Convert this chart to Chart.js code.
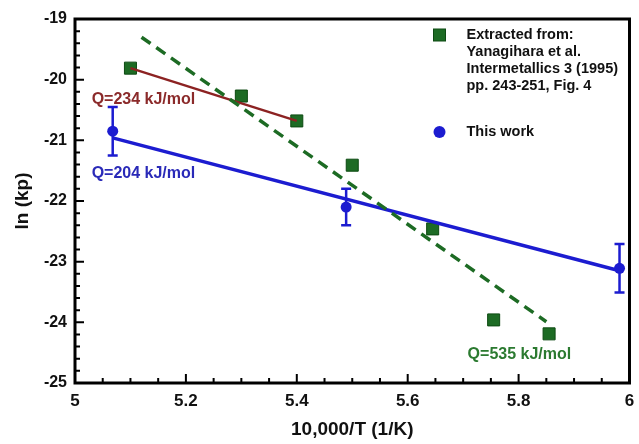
<!DOCTYPE html>
<html>
<head>
<meta charset="utf-8">
<script src="https://cdn.jsdelivr.net/npm/chart.js@4.4.1/dist/chart.umd.min.js"></script>
<style>
  body { margin: 0; background: #fff; }
  #wrap { width: 639px; height: 444px; position: relative; }
</style>
</head>
<body>
<div id="wrap"><canvas id="chart"></canvas></div>
<script>
// Yanagihara et al. (extracted points)
const yanX = [5.10, 5.30, 5.40, 5.50, 5.645, 5.755, 5.855];
const yanY = [-19.81, -20.27, -20.68, -21.41, -22.46, -23.96, -24.19];
// this work, with error bars
const workX = [5.068, 5.489, 5.982];
const workY = [-20.85, -22.10, -23.11];
const workErr = [0.40, 0.30, 0.40];
// fitted lines (end points)
const fit204X = [5.068, 5.982];
const fit204Y = [-20.96, -23.15];
const fit234X = [5.10, 5.40];
const fit234Y = [-19.81, -20.68];
const fit535X = [5.12, 5.85];
const fit535Y = [-19.30, -23.99];
// axes
const xTicks = [5, 5.2, 5.4, 5.6, 5.8, 6];
const yTicks = [-25, -24, -23, -22, -21, -20, -19];

const GREEN = '#1d6b24';
const BLUE = '#1c1cd0';
const RED = '#8c2222';
const FONT = '"Liberation Sans", Arial, sans-serif';

const pts = (xs, ys) => xs.map((x, i) => ({ x: x, y: ys[i] }));

const extras = {
    id: 'extras',
    afterDatasetsDraw(chart) {
        const ctx = chart.ctx;
        const xs = chart.scales.x, ys = chart.scales.y;
        ctx.save();
        ctx.strokeStyle = BLUE;
        ctx.lineWidth = 2.5;
        workX.forEach((v, i) => {
            const px = xs.getPixelForValue(v);
            const top = ys.getPixelForValue(workY[i] + workErr[i]);
            const bot = ys.getPixelForValue(workY[i] - workErr[i]);
            ctx.beginPath();
            ctx.moveTo(px, top); ctx.lineTo(px, bot);
            ctx.moveTo(px - 5, top); ctx.lineTo(px + 5, top);
            ctx.moveTo(px - 5, bot); ctx.lineTo(px + 5, bot);
            ctx.stroke();
        });
        ctx.restore();
    },
    afterDraw(chart) {
        const ctx = chart.ctx;
        const a = chart.chartArea;
        const xs = chart.scales.x, ys = chart.scales.y;
        ctx.save();

        // inward ticks
        ctx.strokeStyle = '#000';
        ctx.lineWidth = 2;
        ctx.beginPath();
        for (let i = 0; i <= 20; i++) {
            const px = xs.getPixelForValue(5 + i * 0.05);
            const len = i % 4 === 0 ? 9 : 5;
            ctx.moveTo(px, a.bottom); ctx.lineTo(px, a.bottom - len);
        }
        for (let i = 0; i <= 30; i++) {
            const py = ys.getPixelForValue(-25 + i * 0.2);
            const len = i % 5 === 0 ? 9 : 5;
            ctx.moveTo(a.left, py); ctx.lineTo(a.left + len, py);
        }
        ctx.stroke();

        // frame
        ctx.lineWidth = 3;
        ctx.strokeRect(a.left, a.top, a.right - a.left, a.bottom - a.top);

        // fit annotations
        ctx.font = 'bold 16px ' + FONT;
        ctx.textBaseline = 'middle';
        ctx.textAlign = 'left';
        ctx.fillStyle = '#8b2a2a';
        ctx.fillText('Q=234 kJ/mol', xs.getPixelForValue(5.03), ys.getPixelForValue(-20.335));
        ctx.fillStyle = '#2a2ab8';
        ctx.fillText('Q=204 kJ/mol', xs.getPixelForValue(5.03), ys.getPixelForValue(-21.55));
        ctx.fillStyle = '#2b7a30';
        ctx.fillText('Q=535 kJ/mol', xs.getPixelForValue(5.708), ys.getPixelForValue(-24.54));

        // legend
        const lx = a.right - 190, tx = a.right - 163;
        ctx.fillStyle = GREEN;
        ctx.strokeStyle = '#0d4a12';
        ctx.lineWidth = 1;
        ctx.fillRect(lx - 6, a.top + 10, 12, 12);
        ctx.strokeRect(lx - 6, a.top + 10, 12, 12);
        ctx.fillStyle = BLUE;
        ctx.beginPath();
        ctx.arc(lx, a.top + 113, 6, 0, Math.PI * 2);
        ctx.fill();

        ctx.fillStyle = '#111';
        ctx.font = 'bold 14.5px ' + FONT;
        const lines = ['Extracted from:', 'Yanagihara et al.', 'Intermetallics 3 (1995)', 'pp. 243-251, Fig. 4'];
        lines.forEach((t, i) => ctx.fillText(t, tx, a.top + 16 + i * 17));
        ctx.fillText('This work', tx, a.top + 113);
        ctx.restore();
    }
};

new Chart(document.getElementById('chart'), {
    type: 'scatter',
    data: {
        datasets: [
            {
                label: 'fit 535',
                data: pts(fit535X, fit535Y),
                showLine: true,
                borderColor: GREEN,
                borderWidth: 3.5,
                borderDash: [11, 7],
                pointRadius: 0
            },
            {
                label: 'fit 234',
                data: pts(fit234X, fit234Y),
                showLine: true,
                borderColor: RED,
                borderWidth: 2.5,
                pointRadius: 0
            },
            {
                label: 'fit 204',
                data: pts(fit204X, fit204Y),
                showLine: true,
                borderColor: BLUE,
                borderWidth: 3.5,
                pointRadius: 0
            },
            {
                label: 'Extracted from: Yanagihara et al.',
                data: pts(yanX, yanY),
                pointStyle: 'rect',
                pointRadius: 8.5,
                backgroundColor: GREEN,
                borderColor: '#0d4a12',
                borderWidth: 1
            },
            {
                label: 'This work',
                data: pts(workX, workY),
                pointStyle: 'circle',
                pointRadius: 5.5,
                backgroundColor: BLUE,
                borderColor: BLUE,
                borderWidth: 0
            }
        ]
    },
    options: {
        responsive: true,
        maintainAspectRatio: false,
        animation: false,
        layout: { padding: { top: 19, right: 0, left: 0, bottom: 0 } },
        plugins: {
            legend: { display: false },
            tooltip: { enabled: false }
        },
        scales: {
            x: {
                type: 'linear',
                min: 5,
                max: 6,
                afterBuildTicks: s => { s.ticks = xTicks.map(v => ({ value: v })); },
                afterFit: s => { s.height = 61; s.paddingLeft = 0; s.paddingRight = 0; },
                grid: { display: false, drawTicks: false },
                border: { display: false },
                ticks: {
                    color: '#111',
                    padding: 8,
                    font: { family: FONT, size: 17, weight: 'bold' },
                    callback: v => String(+v.toFixed(1))
                },
                title: {
                    display: true,
                    text: '10,000/T (1/K)',
                    color: '#111',
                    font: { family: FONT, size: 19, weight: 'bold' },
                    padding: { top: 0, bottom: 3 }
                }
            },
            y: {
                type: 'linear',
                min: -25,
                max: -19,
                afterBuildTicks: s => { s.ticks = yTicks.map(v => ({ value: v })); },
                afterFit: s => { s.width = 75; s.paddingTop = 0; s.paddingBottom = 0; },
                grid: { display: false, drawTicks: false },
                border: { display: false },
                ticks: {
                    color: '#111',
                    padding: 8,
                    font: { family: FONT, size: 16, weight: 'bold' },
                    callback: v => String(v)
                },
                title: {
                    display: true,
                    text: 'ln (kp)',
                    color: '#111',
                    font: { family: FONT, size: 19, weight: 'bold' },
                    padding: { top: 11, bottom: 0 }
                }
            }
        }
    },
    plugins: [extras]
});
</script>
</body>
</html>
